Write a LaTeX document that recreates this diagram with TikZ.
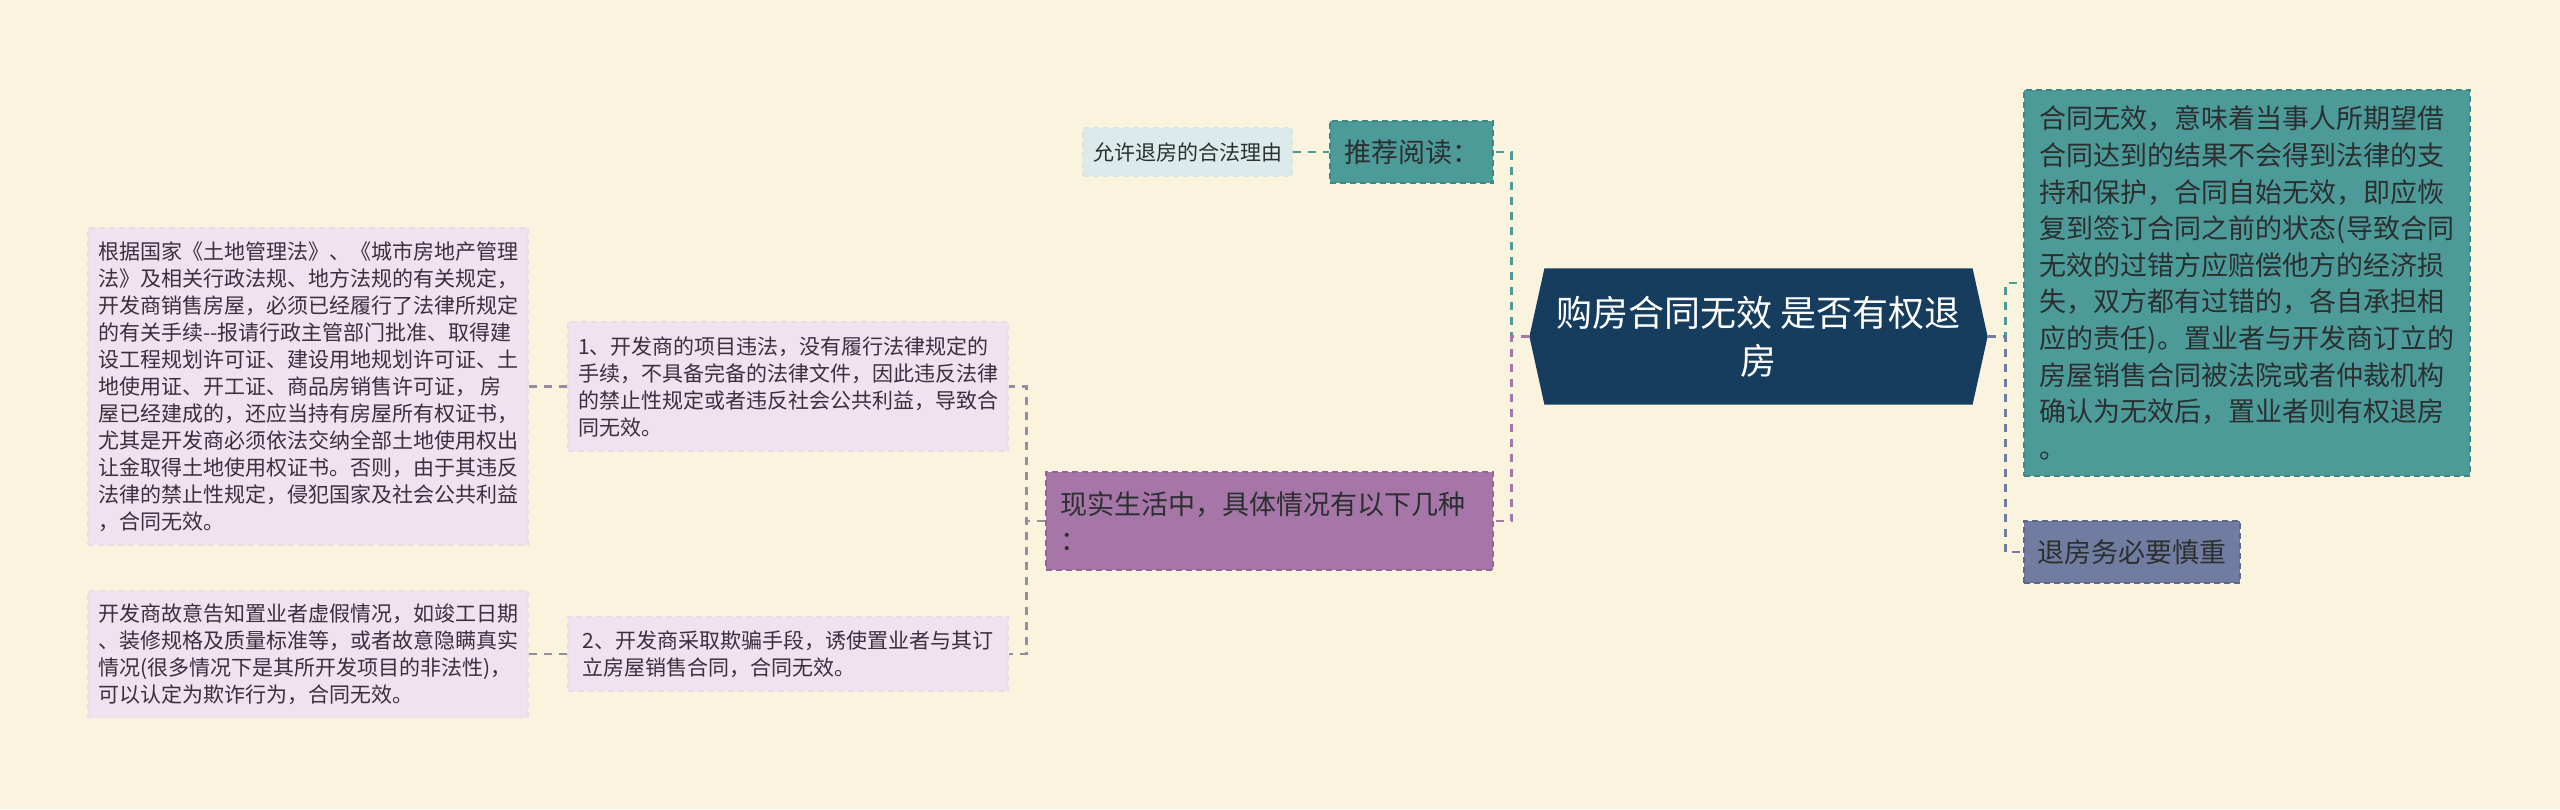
\documentclass[tikz,border=0pt]{standalone}
\usepackage{fontspec}
\setmainfont{Noto Sans CJK SC}
\usetikzlibrary{calc,backgrounds}
\definecolor{bgcream}{HTML}{FAF4DE}
\definecolor{navy}{HTML}{173D5E}
\definecolor{teal}{HTML}{4D9B99}
\definecolor{tealdk}{HTML}{3D8886}
\definecolor{paleblue}{HTML}{DCEAEB}
\definecolor{paleline}{HTML}{D6E6E7}
\definecolor{plum}{HTML}{A676A8}
\definecolor{plumdk}{HTML}{936696}
\definecolor{lavender}{HTML}{EEE3EE}
\definecolor{lavenderdk}{HTML}{E8DCE8}
\definecolor{slate}{HTML}{717DA0}
\definecolor{slatedk}{HTML}{5C688A}
\definecolor{txtdark}{HTML}{2B2F30}
\definecolor{txtplum}{HTML}{3E2E40}
\definecolor{linkgray}{HTML}{9C8A9E}
\begin{document}
\begin{tikzpicture}[x=.5pt,y=-.5pt,
  box/.style={inner sep=0pt,align=left,text=txtdark,line width=.6pt,dash pattern=on 3pt off 2pt},
  leafbox/.style={box,fill=lavender,draw=lavenderdk,text=txtplum,minimum width=220pt,font=\fontsize{10.5}{13.5}\selectfont},
  tealbox/.style={box,fill=teal,draw=tealdk,font=\fontsize{13.5}{18.3}\selectfont},
  link/.style={line width=1.3pt,dash pattern=on 4pt off 3.5pt},
  sublink/.style={link,linkgray,line width=1.1pt}]
  \useasboundingbox (0,0) rectangle (2560,809);
  \node[box,text=white,align=center,minimum width=228.5pt,minimum height=67.5pt,
    font=\fontsize{18}{24}\selectfont] (root) at (1758.5,336.5) {购房合同无效 是否有权退\\房};
  \node[tealbox,align=center,minimum width=81.5pt,minimum height=31pt] (tuijian) at (1411.5,152) {推荐阅读：};
  \node[box,fill=paleblue,draw=paleline,align=center,minimum width=104.5pt,minimum height=24pt,
    font=\fontsize{10.5}{13.5}\selectfont] (yunxu) at (1187.5,152) {允许退房的合法理由};
  \node[box,fill=plum,draw=plumdk,text width=209pt,minimum width=223.5pt,minimum height=49pt,
    font=\fontsize{13.5}{18.3}\selectfont] (xianshi) at (1269.5,521) {现实生活中，具体情况有以下几种\\：};
  \node[leafbox,minimum height=64.5pt] (item1) at (788,386.5) {1、开发商的项目违法，没有履行法律规定的\\手续，不具备完备的法律文件，因此违反法律\\的禁止性规定或者违反社会公共利益，导致合\\同无效。};
  \node[leafbox,minimum height=37pt] (item2) at (788,654) {2、开发商采取欺骗手段，诱使置业者与其订\\立房屋销售合同，合同无效。};
  \node[leafbox,minimum height=158.5pt] (law) at (308,386.5) {根据国家《土地管理法》、《城市房地产管理\\法》及相关行政法规、地方法规的有关规定，\\开发商销售房屋，必须已经履行了法律所规定\\的有关手续-{}-报请行政主管部门批准、取得建\\设工程规划许可证、建设用地规划许可证、土\\地使用证、开工证、商品房销售许可证， 房\\屋已经建成的，还应当持有房屋所有权证书，\\尤其是开发商必须依法交纳全部土地使用权出\\让金取得土地使用权证书。否则，由于其违反\\法律的禁止性规定，侵犯国家及社会公共利益\\，合同无效。};
  \node[leafbox,minimum height=63.5pt] (fraud) at (308,654) {开发商故意告知置业者虚假情况，如竣工日期\\、装修规格及质量标准等，或者故意隐瞒真实\\情况(很多情况下是其所开发项目的非法性)，\\可以认定为欺诈行为，合同无效。};
  \node[tealbox,minimum width=223pt,minimum height=193pt] (wuxiao) at (2247,283) {合同无效，意味着当事人所期望借\\合同达到的结果不会得到法律的支\\持和保护，合同自始无效，即应恢\\复到签订合同之前的状态(导致合同\\无效的过错方应赔偿他方的经济损\\失，双方都有过错的，各自承担相\\应的责任)。置业者与开发商订立的\\房屋销售合同被法院或者仲裁机构\\确认为无效后，置业者则有权退房\\。};
  \node[box,fill=slate,draw=slatedk,align=center,minimum width=108pt,minimum height=31pt,
    font=\fontsize{13.5}{18.3}\selectfont] (tuifang) at (2132,552) {退房务必要慎重};
  \begin{scope}[on background layer]
    \fill[bgcream] (0,0) rectangle (2560,809);
    \fill[navy] (root.west) -- ($(root.north west)+(15,0)$) -- ($(root.north east)+(-15,0)$) -- (root.east)
      -- ($(root.south east)+(-15,0)$) -- ($(root.south west)+(15,0)$) -- cycle;
  \end{scope}
  \draw[link,teal] (yunxu.east) -- (tuijian.west);
  \draw[link,teal] (root.west) -- ++(-18,0) |- (tuijian.east);
  \draw[link,plum] (root.west) -- ++(-18,0) |- (xianshi.east);
  \draw[sublink] (xianshi.west) -- ++(-19,0) |- (item1.east);
  \draw[sublink] (xianshi.west) -- ++(-19,0) |- (item2.east);
  \draw[sublink] (item1.west) -- (law.east);
  \draw[sublink] (item2.west) -- (fraud.east);
  \draw[link,teal] (root.east) -- ++(18,0) |- (wuxiao.west);
  \draw[link,slate] (root.east) -- ++(18,0) |- (tuifang.west);
\end{tikzpicture}
\end{document}
